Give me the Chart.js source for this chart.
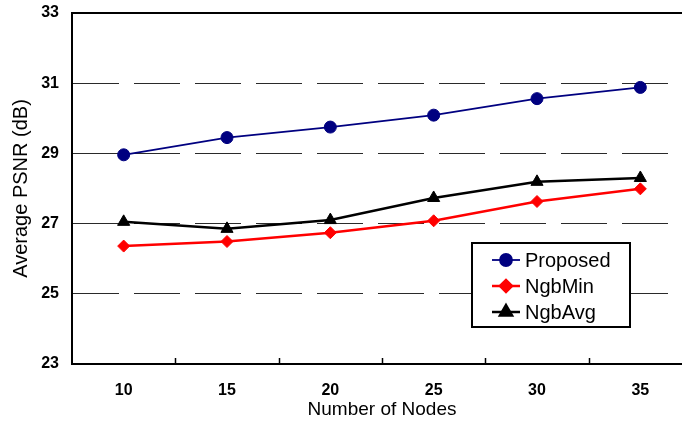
<!DOCTYPE html>
<html>
<head>
<meta charset="utf-8">
<script src="https://cdn.jsdelivr.net/npm/chart.js@4.4.1/dist/chart.umd.min.js"></script>
<style>
  html, body { margin: 0; padding: 0; background: #fff; overflow: hidden; }
  #wrap { width: 700px; height: 426px; }
</style>
</head>
<body>
<div id="wrap"><canvas id="graph" width="700" height="426"></canvas></div>
<script>
const navy =  'rgb(0, 0, 128)'
const red =   'rgb(255, 0, 0)'
const black = 'rgb(0, 0, 0)'
const font = "'Liberation Sans', Arial, sans-serif"

// X categories (number of nodes)
const nodes = ['10', '15', '20', '25', '30', '35']
// Average PSNR (dB) per series
const proposed = [28.96, 29.45, 29.75, 30.09, 30.56, 30.88]
const ngbMin =   [26.36, 26.49, 26.74, 27.08, 27.63, 27.99]
const ngbAvg =   [27.05, 26.85, 27.10, 27.73, 28.19, 28.30]
// Y axis range / ticks
const yMin = 23
const yMax = 33
const yStep = 2

//Draws the top frame line, the inward x ticks and the boxed legend
const framePlugin = {
    id: 'frame',
    afterDraw(chart) {
        const ctx = chart.ctx
        const area = chart.chartArea
        const xs = chart.scales.x
        ctx.save()
        //top frame line
        ctx.strokeStyle = black
        ctx.lineWidth = 2
        ctx.beginPath()
        ctx.moveTo(area.left - 1, area.top)
        ctx.lineTo(area.right, area.top)
        ctx.stroke()
        //tick marks between categories, pointing inside
        ctx.lineWidth = 1.5
        for (let i = 1; i < nodes.length; i++) {
            const x = Math.round((xs.getPixelForValue(i - 1) + xs.getPixelForValue(i)) / 2) + 0.5
            ctx.beginPath()
            ctx.moveTo(x, area.bottom)
            ctx.lineTo(x, area.bottom - 6)
            ctx.stroke()
        }
        //legend box
        const bx = Math.round(area.right - 220), by = area.bottom - 121, bw = 158, bh = 84
        ctx.fillStyle = '#fff'
        ctx.fillRect(bx, by, bw, bh)
        ctx.lineWidth = 2
        ctx.strokeStyle = black
        ctx.strokeRect(bx, by, bw, bh)
        chart.data.datasets.forEach((ds, i) => {
            const cy = by + 17 + i * 26
            const lx = bx + 20
            ctx.strokeStyle = ds.borderColor
            ctx.lineWidth = ds.borderWidth
            ctx.beginPath()
            ctx.moveTo(lx, cy)
            ctx.lineTo(lx + 28, cy)
            ctx.stroke()
            ctx.fillStyle = ds.backgroundColor
            Chart.helpers.drawPoint(ctx, {pointStyle: ds.pointStyle, radius: ds.pointRadius, borderWidth: 1, rotation: 0}, lx + 14, cy)
            ctx.fillStyle = black
            ctx.font = '20px ' + font
            ctx.textBaseline = 'middle'
            ctx.textAlign = 'left'
            ctx.fillText(ds.label, lx + 33, cy + 1)
        })
        ctx.restore()
    }
}

Chart.defaults.font.family = font
Chart.defaults.color = black

new Chart(document.getElementById('graph'), {
    type: 'line',
    data: {
        labels: nodes,
        datasets: [
            {
                label: 'Proposed',
                data: proposed,
                borderColor: navy,
                backgroundColor: navy,
                borderWidth: 1.8,
                pointStyle: 'circle',
                pointRadius: 6,
                pointBorderWidth: 1,
                tension: 0,
            },
            {
                label: 'NgbMin',
                data: ngbMin,
                borderColor: red,
                backgroundColor: red,
                borderWidth: 2.5,
                pointStyle: 'rectRot',
                pointRadius: 6,
                pointBorderWidth: 1,
                tension: 0,
            },
            {
                label: 'NgbAvg',
                data: ngbAvg,
                borderColor: black,
                backgroundColor: black,
                borderWidth: 2.5,
                pointStyle: 'triangle',
                pointRadius: 7,
                pointBorderWidth: 1,
                tension: 0,
            },
        ],
    },
    options: {
        responsive: false,
        animation: false,
        devicePixelRatio: 1,
        layout: {
            padding: {top: 13, right: 2, left: 0, bottom: 0}
        },
        plugins: {
            legend: {display: false},
            tooltip: {enabled: false},
        },
        scales: {
            x: {
                type: 'category',
                offset: true,
                grid: {display: false, drawTicks: false},
                border: {display: true, color: black, width: 2},
                ticks: {
                    padding: 17,
                    font: {size: 16, weight: 'bold'},
                    color: black,
                },
                title: {
                    display: true,
                    text: 'Number of Nodes',
                    font: {size: 19},
                    color: black,
                    padding: 5,
                },
                afterFit: s => { s.height = 62; s.paddingLeft = 0; s.paddingRight = 0 },
            },
            y: {
                min: yMin,
                max: yMax,
                ticks: {
                    stepSize: yStep,
                    padding: 13,
                    font: {size: 16, weight: 'bold'},
                    color: black,
                },
                grid: {
                    drawTicks: false,
                    lineWidth: 1,
                    color: c => (c.tick && (c.tick.value === yMin || c.tick.value === yMax)) ? 'rgba(0,0,0,0)' : '#2a2a2a',
                },
                border: {display: true, color: black, width: 2, dash: [46, 15]},
                title: {
                    display: true,
                    text: 'Average PSNR (dB)',
                    font: {size: 20},
                    color: black,
                    padding: 9,
                },
                afterFit: s => { s.width = 72; s.paddingTop = 0; s.paddingBottom = 0 },
            },
        },
    },
    plugins: [framePlugin],
});
</script>
</body>
</html>
